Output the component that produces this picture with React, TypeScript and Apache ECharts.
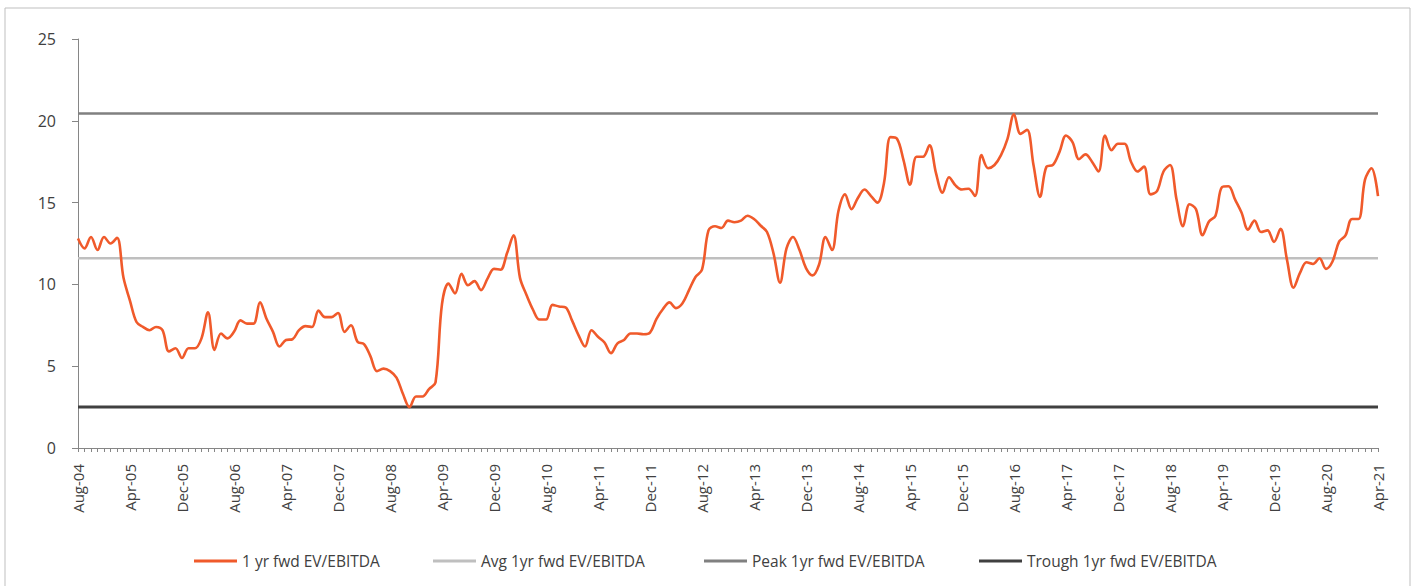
import React, { useEffect, useRef } from "react";
import * as echarts from "echarts";

const MONTH_NAMES = ["Jan", "Feb", "Mar", "Apr", "May", "Jun", "Jul", "Aug", "Sep", "Oct", "Nov", "Dec"];
const START_YEAR = 2004;
const START_MONTH = 7; // Aug
const N_MONTHS = 201; // Aug-04 .. Apr-21

const categories: string[] = [];
for (let k = 0; k < N_MONTHS; k++) {
  const m = (START_MONTH + k) % 12;
  const y = START_YEAR + Math.floor((START_MONTH + k) / 12);
  categories.push(`${MONTH_NAMES[m]}-${String(y % 100).padStart(2, "0")}`);
}

const evEbitda: number[] = [
  12.8, 12.2, 12.9, 12.1, 12.9, 12.5, 12.85, 10.4, 9.0, 7.7,
  7.4, 7.2, 7.4, 7.2, 5.9, 6.1, 5.5, 6.1, 6.1, 6.7,
  8.3, 6.0, 7.0, 6.7, 7.1, 7.8, 7.6, 7.6, 8.9, 7.9,
  7.1, 6.2, 6.6, 6.65, 7.2, 7.45, 7.4, 8.4, 8.0, 8.0,
  8.25, 7.1, 7.5, 6.5, 6.35, 5.6, 4.7, 4.85, 4.7, 4.3,
  3.3, 2.5, 3.15, 3.15, 3.6, 4.0, 8.8, 10.05, 9.45, 10.65,
  9.95, 10.2, 9.65, 10.35, 10.95, 10.9, 11.9, 13.0, 10.4, 9.35,
  8.45, 7.85, 7.85, 8.75, 8.65, 8.6, 7.8, 6.9, 6.2, 7.2,
  6.8, 6.45, 5.8, 6.4, 6.6, 7.0, 7.0, 6.95, 7.05, 7.9,
  8.5, 8.9, 8.55, 8.85, 9.65, 10.45, 10.9, 13.3, 13.55, 13.45,
  13.9, 13.8, 13.9, 14.2, 14.0, 13.6, 13.2, 11.9, 10.1, 12.2,
  12.9, 12.1, 11.0, 10.55, 11.2, 12.9, 12.1, 14.5, 15.5, 14.6,
  15.3, 15.8, 15.4, 15.0, 16.2, 19.0, 18.9, 17.6, 16.1, 17.8,
  17.8, 18.5, 16.8, 15.6, 16.55, 16.05, 15.8, 15.85, 15.4, 17.9,
  17.1, 17.3, 17.9, 18.9, 20.4, 19.2, 19.45, 17.3, 15.35, 17.2,
  17.3, 18.1, 19.1, 18.7, 17.65, 17.95, 17.5, 16.9, 19.1, 18.2,
  18.6, 18.6, 17.5, 16.9, 17.2, 15.5, 15.7, 16.9, 17.3, 15.2,
  13.55, 14.9, 14.6, 13.0, 13.85, 14.2, 15.95, 16.0, 15.2, 14.4,
  13.35, 13.9, 13.2, 13.3, 12.6, 13.4, 11.5, 9.8, 10.7, 11.35,
  11.25, 11.6, 10.95, 11.4, 12.6, 13.0, 14.0, 14.0, 16.4, 17.1,
  15.4,
];

const AVG_VALUE = 11.6;
const PEAK_VALUE = 20.45;
const TROUGH_VALUE = 2.5;

const Y_TICKS = { min: 0, max: 25, interval: 5 };

const SERIES_NAMES = [
  "1 yr fwd EV/EBITDA",
  "Avg 1yr fwd EV/EBITDA",
  "Peak 1yr fwd EV/EBITDA",
  "Trough 1yr fwd EV/EBITDA",
];
const SERIES_COLORS = ["#F05A2B", "#BFBFBF", "#808080", "#404040"];
const LEGEND_LEFTS = [189, 428, 699, 974];

const FONT = "'Open Sans', 'Liberation Sans', sans-serif";

export default function App() {
  const ref = useRef<HTMLDivElement>(null);

  useEffect(() => {
    document.body.style.margin = "0";
    if (!ref.current) return;
    const chart = echarts.init(ref.current, undefined, { renderer: "svg" });

    const constSeries = (v: number) => categories.map(() => v);
    const seriesData = [evEbitda, constSeries(AVG_VALUE), constSeries(PEAK_VALUE), constSeries(TROUGH_VALUE)];
    const widths = [2.6, 2.4, 2.6, 3];

    chart.setOption({
      animation: false,
      backgroundColor: "#ffffff",
      textStyle: { fontFamily: FONT },
      grid: { left: 78, right: 36, top: 39, bottom: 138, containLabel: false },
      legend: SERIES_NAMES.map((name, k) => ({
        data: [name],
        left: LEGEND_LEFTS[k],
        top: 548,
        itemWidth: 43,
        itemHeight: 3,
        icon: "rect",
        itemGap: 5,
        textStyle: { fontSize: 15.5, color: "#404040", fontFamily: FONT },
      })),
      xAxis: {
        type: "category",
        data: categories,
        boundaryGap: false,
        axisLine: { show: true, lineStyle: { color: "#868686", width: 1 } },
        axisTick: { show: true, interval: 0, length: 4, lineStyle: { color: "#868686" } },
        axisLabel: {
          interval: 7,
          rotate: 90,
          margin: 16,
          fontSize: 15,
          color: "#404040",
          fontFamily: FONT,
        },
        splitLine: { show: false },
      },
      yAxis: {
        type: "value",
        min: Y_TICKS.min,
        max: Y_TICKS.max,
        interval: Y_TICKS.interval,
        axisLine: { show: true, lineStyle: { color: "#868686", width: 1 } },
        axisTick: { show: true, length: 6, lineStyle: { color: "#868686" } },
        axisLabel: { fontSize: 16, color: "#404040", margin: 22, fontFamily: FONT },
        splitLine: { show: false },
      },
      series: SERIES_NAMES.map((name, k) => ({
        name,
        type: "line",
        data: seriesData[k],
        smooth: k === 0 ? 0.35 : false,
        showSymbol: false,
        symbol: "none",
        color: SERIES_COLORS[k],
        lineStyle: { color: SERIES_COLORS[k], width: widths[k] },
        z: k === 0 ? 5 : 3,
      })),
      graphic: [
        {
          type: "rect",
          shape: { x: 5, y: 8, width: 1405, height: 600 },
          style: { fill: "none", stroke: "#BFBFBF", lineWidth: 1 },
          silent: true,
        },
      ],
    });

    return () => chart.dispose();
  }, []);

  return <div ref={ref} style={{ width: 1414, height: 586 }} />;
}
